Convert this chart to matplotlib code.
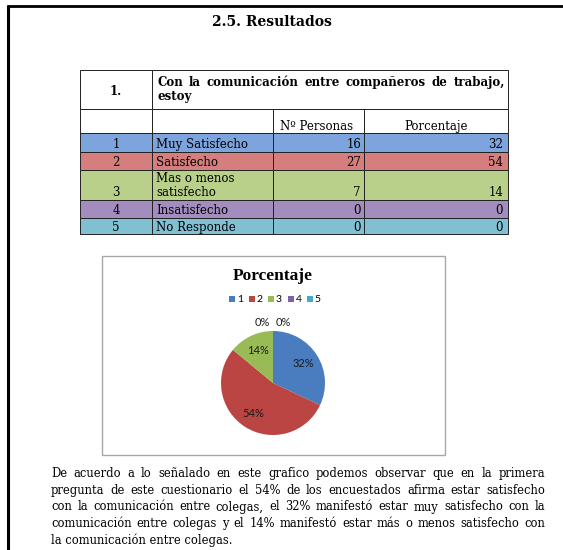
import numpy as np
import matplotlib.pyplot as plt
from matplotlib.patches import Rectangle

W, H = 563, 550

# datos de la tabla
codigos = ['1', '2', '3', '4', '5']
respuestas = ['Muy Satisfecho', 'Satisfecho', 'Mas o menos\nsatisfecho', 'Insatisfecho', 'No Responde']
personas = [16, 27, 7, 0, 0]
porcentaje = [32, 54, 14, 0, 0]

titulo = '2.5. Resultados'
num_pregunta = '1.'
pregunta = ['Con la comunicación entre compañeros de trabajo,', 'estoy']
encabezados = ['Nº Personas', 'Porcentaje']
titulo_grafico = 'Porcentaje'

parrafo = [
    'De acuerdo a lo señalado en este grafico podemos observar que en la primera',
    'pregunta de este cuestionario el 54% de los encuestados afirma estar satisfecho',
    'con la comunicación entre colegas, el 32% manifestó estar muy satisfecho con la',
    'comunicación entre colegas y el 14% manifestó estar más o menos satisfecho con',
    'la comunicación entre colegas.',
]

colores_fila = ['#7DA4DC', '#D57E7E', '#B9D08B', '#A28DBE', '#80C0D2']
colores_pie = ['#4A7CC0', '#BA4543', '#98BB55', '#7E62A2', '#47ABC6']

serif = 'DejaVu Serif'

fig = plt.figure(figsize=(W / 100, H / 100), dpi=100)
pg = fig.add_axes([0, 0, 1, 1])
pg.set_xlim(0, W)
pg.set_ylim(H, 0)
pg.axis('off')
rend = fig.canvas.get_renderer()


def justificar(texto, x0, x1, y, **kw):
    palabras = texto.split(' ')
    objs = [pg.text(0, y, p, va='baseline', family=serif, **kw) for p in palabras]
    anchos = [t.get_window_extent(rend).width for t in objs]
    hueco = (x1 - x0 - sum(anchos)) / (len(palabras) - 1)
    x = x0
    for t, a in zip(objs, anchos):
        t.set_x(x)
        x += a + hueco


# marco de pagina
pg.plot([7.5, 7.5], [5, H], color='black', lw=2.2, solid_capstyle='butt')
pg.plot([6.5, W], [6, 6], color='black', lw=2.0, solid_capstyle='butt')

pg.text(272, 26, titulo, ha='center', va='baseline', family=serif,
        fontweight='bold', fontsize=10)

# tabla
cols = [80, 152, 273, 364, 508]
filas = [133, 152, 170, 200, 218, 234]
bases = [148, 166.5, 195.5, 214, 231]
lc = '#222222'
lw = 0.7

pg.add_patch(Rectangle((cols[0], 70), cols[1] - cols[0], 39, fc='white', ec=lc, lw=lw))
pg.add_patch(Rectangle((cols[1], 70), cols[4] - cols[1], 39, fc='white', ec=lc, lw=lw))
for i in range(4):
    pg.add_patch(Rectangle((cols[i], 109), cols[i + 1] - cols[i], 24, fc='white', ec=lc, lw=lw))

pg.text(116, 95, num_pregunta, ha='center', va='baseline', family=serif,
        fontweight='bold', fontsize=8.5)
justificar(pregunta[0], 157, 505, 86, fontweight='bold', fontsize=8.5)
pg.text(157, 100, pregunta[1], va='baseline', family=serif, fontweight='bold', fontsize=8.5)
pg.text(317, 130, encabezados[0], ha='center', va='baseline', family=serif, fontsize=8.5)
pg.text(436, 130, encabezados[1], ha='center', va='baseline', family=serif, fontsize=8.5)

for i, (c, r, n, p) in enumerate(zip(codigos, respuestas, personas, porcentaje)):
    y0, y1 = filas[i], filas[i + 1]
    for j in range(4):
        pg.add_patch(Rectangle((cols[j], y0), cols[j + 1] - cols[j], y1 - y0,
                               fc=colores_fila[i], ec=lc, lw=lw))
    base = bases[i]
    pg.text(116, base, c, ha='center', va='baseline', family=serif, fontsize=8.5)
    lineas = r.split('\n')
    for k, ln in enumerate(lineas):
        pg.text(156, base - 14 * (len(lineas) - 1 - k), ln, va='baseline',
                family=serif, fontsize=8.5)
    pg.text(cols[3] - 3, base, str(n), ha='right', va='baseline', family=serif, fontsize=8.5)
    pg.text(cols[4] - 5, base, str(p), ha='right', va='baseline', family=serif, fontsize=8.5)

# grafico de torta
pg.add_patch(Rectangle((102, 256), 343, 199, fc='white', ec='#A8A8A8', lw=1))
pg.text(273, 279.5, titulo_grafico, ha='center', va='baseline', family='Liberation Serif',
        fontweight='bold', fontsize=12.5)

cx, cy, rad = 273, 383, 52
ax = fig.add_axes([(cx - rad) / W, 1 - (cy + rad) / H, 2 * rad / W, 2 * rad / H])
wedges, _, autot = ax.pie(porcentaje, colors=colores_pie, startangle=90, counterclock=False,
                          autopct=lambda v: '%.0f%%' % v, pctdistance=0.7,
                          textprops=dict(family='Lato', fontsize=8, color='#1A1A1A'))
ax.set_xlim(-1, 1)
ax.set_ylim(-1, 1)
ax.set_aspect('equal')
ceros = [t for t, v in zip(autot, porcentaje) if v == 0]
for k, t in enumerate(ceros):
    t.set_position(((-0.21 + 0.4 * k / max(len(ceros) - 1, 1)), 1.17))

ax.legend(wedges, codigos, loc='center', bbox_to_anchor=(275 / W, 1 - 300 / H),
          bbox_transform=fig.transFigure, ncol=5, frameon=False,
          handlelength=0.6, handleheight=0.6, handletextpad=0.15, columnspacing=0.55,
          prop=dict(family='Lato', size=7.5))

# texto
ys = [477, 494, 510.5, 527, 544]
for k, ln in enumerate(parrafo):
    if k < len(parrafo) - 1:
        justificar(ln, 51, 545, ys[k], fontsize=8.3)
    else:
        pg.text(51, ys[k], ln, va='baseline', family=serif, fontsize=8.3)

fig.savefig('out.png', dpi=100)
